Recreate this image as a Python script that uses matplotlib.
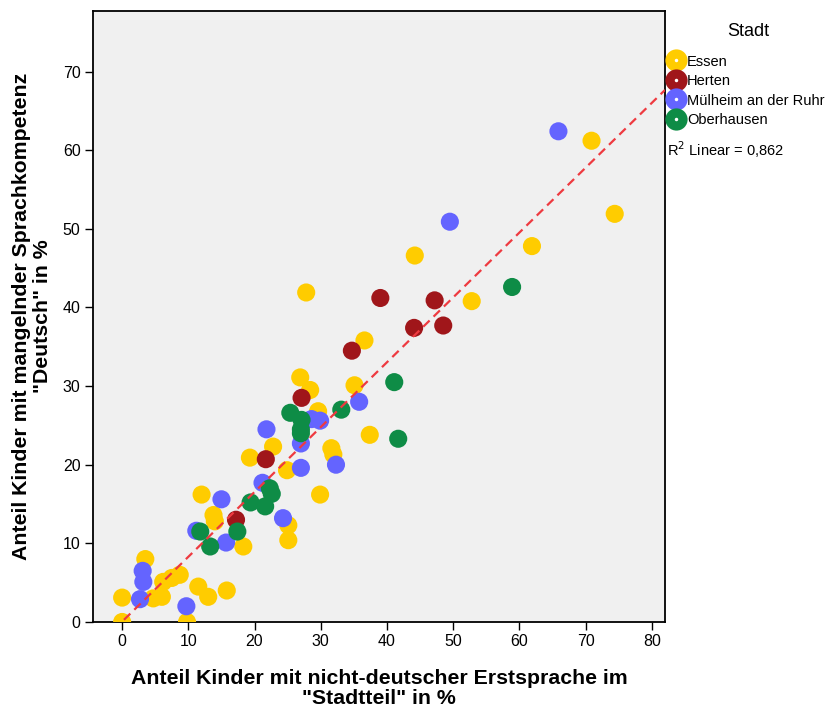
import numpy as np
import matplotlib.pyplot as plt
from matplotlib.lines import Line2D
from matplotlib.legend_handler import HandlerTuple

plt.rcParams['font.family'] = ['Liberation Sans', 'DejaVu Sans']

# x: Anteil nicht-deutsche Erstsprache (%), y: Anteil mangelnde Sprachkompetenz (%)
essen_x = [0, 0, 3.5, 4.7, 6.0, 6.2, 7.5, 8.7, 11.5, 13.0, 15.8, 9.8, 12.0, 13.8, 14.0,
           18.3, 25.1, 25.1, 24.9, 19.3, 22.8, 26.9, 28.4, 29.6, 35.1, 31.6, 31.9, 29.9,
           37.4, 36.6, 27.8, 44.2, 61.9, 52.8, 70.9, 74.4]
essen_y = [0, 3.1, 8.0, 3.0, 3.2, 5.1, 5.6, 6.0, 4.5, 3.2, 4.0, 0, 16.2, 13.6, 12.8,
           9.6, 12.3, 10.4, 19.3, 20.9, 22.3, 31.1, 29.5, 26.8, 30.1, 22.1, 21.3, 16.2,
           23.8, 35.8, 41.9, 46.6, 47.8, 40.8, 61.2, 51.9]

herten_x = [17.2, 21.7, 27.1, 34.7, 39.0, 44.1, 47.2, 48.5]
herten_y = [13.0, 20.7, 28.5, 34.5, 41.2, 37.4, 40.9, 37.7]

muelheim_x = [2.7, 3.1, 3.2, 9.7, 11.2, 15.0, 15.7, 21.2, 24.3, 21.8, 27.0, 27.0,
              28.6, 29.9, 32.3, 35.8, 49.5, 65.9]
muelheim_y = [2.9, 6.5, 5.1, 2.0, 11.6, 15.6, 10.1, 17.7, 13.2, 24.5, 22.7, 19.6,
              25.8, 25.6, 20.0, 28.0, 50.9, 62.4]

oberhausen_x = [11.8, 13.3, 17.4, 19.4, 21.6, 22.3, 22.6, 25.4, 27.1, 27.0, 27.0,
                33.1, 41.1, 41.7, 58.9]
oberhausen_y = [11.5, 9.6, 11.5, 15.2, 14.7, 17.0, 16.3, 26.6, 25.7, 24.5, 24.0,
                27.0, 30.5, 23.3, 42.6]

staedte = ['Essen', 'Herten', 'Mülheim an der Ruhr', 'Oberhausen']
farben = ['#FFCC00', '#A0161A', '#6464FF', '#0E8C46']
r2_text = 'R$^2$ Linear = 0,862'

fig = plt.figure(figsize=(8.29, 7.08), dpi=100)
ax = fig.add_axes([0.1122, 0.1215, 0.69, 0.863])
ax.set_facecolor('#F0F0F0')

groups = [(essen_x, essen_y), (herten_x, herten_y),
          (muelheim_x, muelheim_y), (oberhausen_x, oberhausen_y)]
handles = []
for (gx, gy), name, col in zip(groups, staedte, farben):
    ax.scatter(gx, gy, s=170, color=col, edgecolors='none', zorder=3)
    big = Line2D([], [], marker='o', linestyle='none', markersize=16,
                 markerfacecolor=col, markeredgecolor='none')
    dot = Line2D([], [], marker='o', linestyle='none', markersize=2.5,
                 markerfacecolor='white', markeredgecolor='none')
    handles.append((big, dot))

# linear fit over all points
all_x = np.concatenate([g[0] for g in groups])
all_y = np.concatenate([g[1] for g in groups])
slope, intercept = np.polyfit(all_x, all_y, 1)
xl = np.array([-4.4, 82.0])
ax.plot(xl, slope * xl + intercept, color='#EE3A40', lw=1.6,
        linestyle=(0, (4, 2.5)), zorder=4)

ax.set_xlim(-4.4, 82.0)
ax.set_ylim(0, 77.7)
ax.set_xticks(range(0, 81, 10))
ax.set_yticks(range(0, 71, 10))
ax.tick_params(direction='out', length=6, width=1, labelsize=11.5, pad=3)
for sp in ax.spines.values():
    sp.set_linewidth(1.3)

ax.set_xlabel('Anteil Kinder mit nicht-deutscher Erstsprache im\n"Stadtteil" in %',
              fontsize=15.3, fontweight='bold', labelpad=14, linespacing=1.1)
ax.set_ylabel('Anteil Kinder mit mangelnder Sprachkompetenz\n"Deutsch" in %',
              fontsize=15.3, fontweight='bold', labelpad=8, linespacing=1.1)

fig.text(748 / 829, 1 - 32 / 708, 'Stadt', fontsize=13, ha='center', va='center')
leg = fig.legend(handles, staedte, handler_map={tuple: HandlerTuple(ndivide=1, pad=0)},
                 loc='upper left', bbox_to_anchor=(0.806, 0.923), frameon=False,
                 fontsize=10.5, handlelength=1.1, handletextpad=0.2, labelspacing=0.38,
                 borderaxespad=0, borderpad=0)
fig.text(0.804, 0.788, r2_text, fontsize=10.5, va='center', ha='left')

fig.savefig('out.png', dpi=100)
